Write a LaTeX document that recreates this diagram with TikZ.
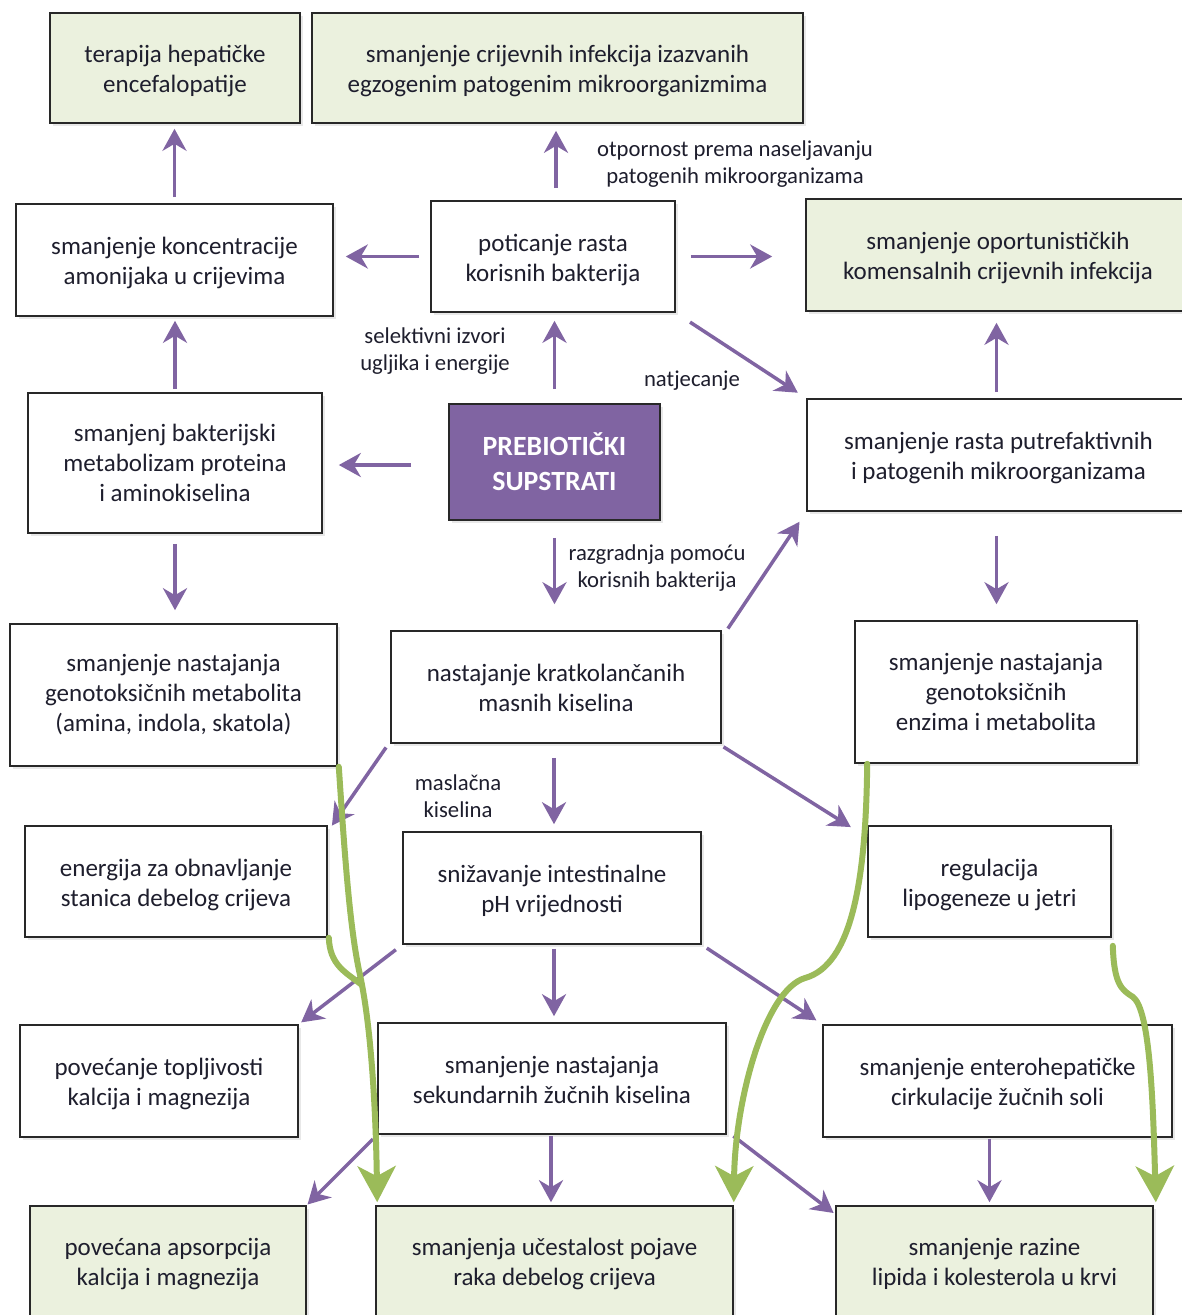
\documentclass[tikz,border=0pt]{standalone}
\usepackage{fontspec}
\setmainfont{Carlito}
\usetikzlibrary{arrows.meta,shadows,calc}
\definecolor{pur}{RGB}{128,100,162}
\definecolor{grn}{RGB}{155,187,89}
\definecolor{gfill}{RGB}{235,241,222}
\definecolor{txt}{RGB}{30,30,45}
\definecolor{bord}{RGB}{40,40,40}
\newcommand\twol[2]{\raisebox{-3.5pt}[\height][\depth]{\begin{tabular}{@{}c@{}}#1\\#2\end{tabular}}}
\tikzset{
  box/.style={draw=bord, line width=1.6pt, fill=white, align=center, inner sep=0pt,
    font=\fontsize{25}{30}\selectfont, text=txt,
    drop shadow={opacity=0.18, shadow xshift=3pt, shadow yshift=-3pt}},
  gbox/.style={box, fill=gfill},
  pbox/.style={box, fill=pur, text=white, font=\bfseries\fontsize{27.8}{35}\selectfont},
  sz/.style 2 args={minimum width=#1pt, minimum height=#2pt},
  lbl/.style={align=center, font=\fontsize{22.7}{27}\selectfont, text=txt},
  parr/.style={draw=pur, line width=3.5pt, -{Stealth[length=22pt,width=24pt,inset=7pt]}},
  garr/.style={draw=grn, line width=6pt, line cap=round, -{Stealth[length=36pt,width=38pt,inset=10pt]}},
  gline/.style={draw=grn, line width=6pt, line cap=round}
}
\begin{document}
\begin{tikzpicture}[x=1pt,y=-1pt]
\fill[white] (0,0) rectangle (1182,1315);
\useasboundingbox (0,0) rectangle (1182,1315);

% boxes
\node[gbox, sz={250}{110}] (ter) at (175,68) {\twol{terapija hepatičke}{encefalopatije}};
\node[gbox, sz={491}{110}] (inf) at (557.5,68) {\twol{smanjenje crijevnih infekcija izazvanih}{egzogenim patogenim mikroorganizmima}};
\node[box, sz={317}{112}] (amon) at (174.5,260) {\twol{smanjenje koncentracije}{amonijaka u crijevima}};
\node[box, sz={244}{111}] (poti) at (553,256.5) {\twol{poticanje rasta}{korisnih bakterija}};
\node[gbox, sz={384}{112}] (opor) at (998,255) {\twol{smanjenje oportunističkih}{komensalnih crijevnih infekcija}};
\node[box, sz={294}{140}] (meta) at (175,463) {smanjenj bakterijski\\metabolizam proteina\\i aminokiselina};
\node[pbox, sz={211}{116}] (preb) at (554.5,462) {PREBIOTIČKI\\SUPSTRATI};
\node[box, sz={383}{112}] (putr) at (998.5,455) {\twol{smanjenje rasta putrefaktivnih}{i patogenih mikroorganizama}};
\node[box, sz={327}{142}] (genm) at (173.5,695) {smanjenje nastajanja\\genotoksičnih metabolita\\(amina, indola, skatola)};
\node[box, sz={330}{112}] (kratko) at (556,687) {\twol{nastajanje kratkolančanih}{masnih kiselina}};
\node[box, sz={282}{142}] (gene) at (996,692) {smanjenje nastajanja\\genotoksičnih\\enzima i metabolita};
\node[box, sz={302}{111}] (ener) at (176,881.5) {\twol{energija za obnavljanje}{stanica debelog crijeva}};
\node[box, sz={298}{112}] (ph) at (552,888) {\twol{snižavanje intestinalne}{pH vrijednosti}};
\node[box, sz={243}{111}] (lipo) at (989.5,881.5) {\twol{regulacija}{lipogeneze u jetri}};
\node[box, sz={278}{112}] (topl) at (159,1081) {\twol{povećanje topljivosti}{kalcija i magnezija}};
\node[box, sz={348}{111}] (sek) at (552,1078.5) {\twol{smanjenje nastajanja}{sekundarnih žučnih kiselina}};
\node[box, sz={349}{112}] (ente) at (997.5,1081) {\twol{smanjenje enterohepatičke}{cirkulacije žučnih soli}};
\node[gbox, sz={276}{110}] (aps) at (168,1261) {\twol{povećana apsorpcija}{kalcija i magnezija}};
\node[gbox, sz={357}{110}] (raka) at (554.5,1261) {\twol{smanjenja učestalost pojave}{raka debelog crijeva}};
\node[gbox, sz={317}{110}] (lipk) at (994.5,1261) {\twol{smanjenje razine}{lipida i kolesterola u krvi}};

% labels
\node[lbl] (l1) at (735,164) {otpornost prema naseljavanju\\patogenih mikroorganizama};
\node[lbl] (l2) at (435,351) {selektivni izvori\\ugljika i energije};
\node[lbl] (l3) at (692,381) {natjecanje};
\node[lbl] (l4) at (657,568) {razgradnja pomoću\\korisnih bakterija};
\node[lbl] (l5) at (458,796) {maslačna\\kiselina};

% purple arrows
\draw[parr, shorten <=6pt, shorten >=5pt] (amon.north) -- (amon.north |- ter.south);
\draw[parr, shorten <=12pt, shorten >=7pt] ([xshift=3pt]poti.north) -- ([xshift=3pt]poti.north |- inf.south);
\draw[parr, shorten <=11pt, shorten >=12pt] (poti.west) -- (poti.west -| amon.east);
\draw[parr, shorten <=15pt, shorten >=33pt] (poti.east) -- (poti.east -| opor.west);
\draw[parr, shorten <=17pt, shorten >=10pt] (poti.south east) -- (putr.north west);
\draw[parr, shorten <=14pt, shorten >=8pt] (preb.north) -- (preb.north |- poti.south);
\draw[parr, shorten <=37pt, shorten >=16pt] ([yshift=-3pt]preb.west) -- ([yshift=-3pt]preb.west -| meta.east);
\draw[parr, shorten <=3pt, shorten >=4pt] (meta.north) -- (meta.north |- amon.south);
\draw[parr, shorten <=10pt, shorten >=13pt] (meta.south) -- (meta.south |- genm.north);
\draw[parr, shorten <=17pt, shorten >=26pt] (preb.south) -- (preb.south |- kratko.north);
\draw[parr, shorten <=6pt, shorten >=11pt] ([xshift=-2pt]putr.north) -- ([xshift=-2pt]putr.north |- opor.south);
\draw[parr, shorten <=24pt, shorten >=16pt] ([xshift=-2pt]putr.south) -- ([xshift=-2pt]putr.south |- gene.north);
\draw[parr, shorten <=2pt, shorten >=12pt] ([xshift=5pt]kratko.north east) -- (putr.south west);
\draw[parr, shorten <=2pt, shorten >=2pt] ([xshift=-3pt,yshift=-2pt]kratko.south west) -- ([xshift=3pt,yshift=-2pt]ener.north east);
\draw[parr, shorten <=14pt, shorten >=7pt] ([xshift=-2pt]kratko.south) -- ([xshift=-2pt]kratko.south |- ph.north);
\draw[parr, shorten <=2pt, shorten >=4pt] ([yshift=-2pt]kratko.south east) -- ([xshift=-13pt,yshift=-4pt]lipo.north west);
\draw[parr, shorten <=8pt, shorten >=3pt] (ph.south west) -- (topl.north east);
\draw[parr, shorten <=4pt, shorten >=6pt] ([xshift=2pt]ph.south) -- ([xshift=2pt]ph.south |- sek.north);
\draw[parr, shorten <=6pt, shorten >=7pt] (ph.south east) -- (ente.north west);
\draw[parr, shorten <=1pt, shorten >=3pt] ([xshift=-1pt]sek.south) -- ([xshift=-1pt]sek.south |- raka.north);
\draw[parr, shorten <=6pt, shorten >=1pt] (sek.south west) -- (aps.north east);
\draw[parr, shorten <=2pt, shorten >=2pt] ([xshift=5pt]sek.south east) -- ([yshift=-9pt]lipk.north west);
\draw[parr, shorten <=1pt, shorten >=3pt] ([xshift=-8pt]ente.south) -- ([xshift=-8pt]ente.south |- lipk.north);

% green curves
\draw[gline] ($(ener.south east)+(1,0)$) .. controls (330,965) and (345,972) .. (362,985);
\draw[garr] ($(genm.south east)+(1,0)$) .. controls (345,860) and (350,930) .. (360,975) .. controls (372,1030) and (376,1120) .. ($(raka.north west)+(2,-3)$);
\draw[garr] ($(gene.south west)+(13,0)$) .. controls (866,880) and (852,965) .. (805,978) .. controls (765,990) and (735,1100) .. ($(raka.north east)+(0,-3)$);
\draw[garr] ($(lipo.south east)+(1,8)$) .. controls (1114,985) and (1122,990) .. (1133,997) .. controls (1150,1010) and (1153,1100) .. ($(lipk.north east)+(2,-3)$);
\end{tikzpicture}
\end{document}
